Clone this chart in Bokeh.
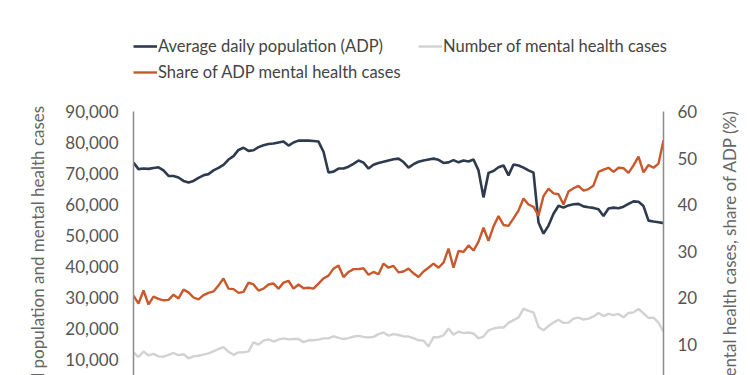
import math
from bokeh.plotting import figure
from bokeh.layouts import column, row
from bokeh.models import (Range1d, LinearAxis, FixedTicker, NumeralTickFormatter,
                          Legend, LegendItem, Label)
from bokeh.embed import file_html
from bokeh.resources import INLINE

# ---- data ----
month = list(range(107))

adp_thousands = [73.5, 71.4, 71.6, 71.5, 71.8, 72.0, 71.0, 69.2, 69.2, 68.7,
                 67.6, 67.1, 67.6, 68.6, 69.4, 69.8, 71.0, 71.8, 72.8, 74.5,
                 75.6, 77.6, 78.3, 77.3, 77.5, 78.5, 79.1, 79.5, 79.7, 80.0,
                 80.3, 79.0, 80.0, 80.6, 80.6, 80.6, 80.5, 80.3, 77.0, 70.3,
                 70.6, 71.6, 71.6, 72.2, 73.1, 74.2, 73.5, 71.6, 72.8, 73.4,
                 73.8, 74.2, 74.6, 74.8, 73.7, 71.9, 73.0, 73.8, 74.2, 74.5,
                 74.8, 74.4, 73.4, 73.6, 74.3, 73.6, 74.2, 73.9, 74.5, 71.0,
                 62.3, 70.2, 70.8, 72.0, 72.6, 69.4, 72.9, 72.6, 71.9, 71.0,
                 70.3, 54.2, 50.6, 53.2, 57.0, 59.6, 59.0, 59.7, 60.1, 60.2,
                 59.4, 59.1, 58.9, 58.5, 56.3, 58.7, 59.0, 58.8, 59.3, 60.2,
                 61.0, 60.9, 59.5, 54.8, 54.5, 54.3, 54.0]

mh_cases_thousands = [12.3, 10.8, 12.6, 11.3, 11.8, 11.0, 10.9, 11.5, 12.1, 11.4,
                      11.7, 10.4, 11.0, 11.2, 11.6, 12.0, 12.6, 13.4, 14.0, 12.5,
                      11.5, 12.3, 12.3, 12.6, 15.5, 14.8, 16.1, 16.5, 15.8, 16.4,
                      16.8, 16.5, 16.6, 16.6, 15.6, 16.2, 16.2, 16.4, 16.8, 16.8,
                      17.5, 17.0, 16.6, 16.9, 17.4, 17.6, 17.3, 17.1, 17.3, 18.2,
                      18.7, 17.7, 18.2, 17.9, 17.5, 17.4, 16.9, 16.2, 16.1, 14.2,
                      17.2, 17.2, 17.8, 20.0, 18.0, 19.0, 18.5, 18.7, 18.4, 16.8,
                      17.4, 19.4, 20.0, 20.3, 20.3, 21.8, 22.7, 23.5, 26.4, 25.7,
                      25.2, 20.5, 19.4, 20.8, 21.9, 22.8, 21.8, 21.9, 23.2, 23.5,
                      22.9, 23.2, 23.9, 25.0, 24.0, 24.7, 24.3, 24.7, 23.6, 25.0,
                      25.2, 26.3, 24.9, 23.4, 23.5, 21.9, 19.0]

share_pct = [20.4, 18.7, 21.5, 18.5, 20.2, 19.7, 19.4, 19.5, 20.6, 19.8,
             21.7, 21.1, 20.0, 19.6, 20.5, 21.0, 21.3, 22.6, 24.1, 21.9,
             21.8, 21.0, 21.2, 23.2, 22.8, 21.5, 21.9, 22.8, 23.0, 21.9,
             23.2, 23.6, 21.9, 22.8, 22.0, 22.1, 21.9, 23.0, 24.1, 24.7,
             26.2, 26.9, 24.4, 25.5, 26.1, 26.1, 26.3, 24.9, 25.5, 25.0,
             27.3, 26.4, 26.8, 25.4, 25.6, 26.2, 25.2, 24.4, 25.6, 26.4,
             27.3, 26.4, 27.5, 30.5, 26.4, 30.0, 29.8, 31.2, 30.1, 32.0,
             35.0, 32.2, 35.3, 37.5, 35.6, 35.4, 37.0, 38.7, 41.3, 40.0,
             39.5, 37.6, 41.8, 43.4, 42.4, 42.2, 40.0, 42.8, 43.5, 44.0,
             43.0, 43.3, 44.1, 47.0, 47.5, 47.9, 47.0, 47.9, 47.8, 46.8,
             48.4, 50.3, 46.9, 48.5, 47.9, 48.8, 53.8]

left_ticks = [10000, 20000, 30000, 40000, 50000, 60000, 70000, 80000, 90000]
right_ticks = [10, 20, 30, 40, 50, 60]

series_names = ["Average daily population (ADP)", "Number of mental health cases",
                "Share of ADP mental health cases"]
left_title = "Jail population and mental health cases"
right_title = "Mental health cases, share of ADP (%)"

adp = [v * 1000 for v in adp_thousands]
mh_cases = [v * 1000 for v in mh_cases_thousands]

# ---- layout (page pixels) ----
W, H = 750, 375
LEG_H = 101                      # height of the legend strip
LT_W, RT_W = 55, 40              # strips holding the axis titles
F_LEFT, F_RIGHT, F_TOP, F_BOTTOM = 133, 663, 111, 375
ZERO_PX = 390                    # where 0 would sit (below the visible window)
LEFT_MAX, RIGHT_MAX = 90000, 60
full_h = ZERO_PX - F_TOP
left_start = LEFT_MAX * (ZERO_PX - F_BOTTOM) / full_h
right_start = RIGHT_MAX * (ZERO_PX - F_BOTTOM) / full_h
CH_H = H - LEG_H
CH_W = W - LT_W - RT_W

FONT = "Lato"
NAVY = "#2e3a4e"
ORANGE = "#c9592b"
GRAY = "#d2d2d2"
AXIS_COLOR = "#8c8c8c"
COLORS = [NAVY, GRAY, ORANGE]
WIDTHS = [2.6, 2.4, 2.4]


def blank_fig(w, h):
    f = figure(width=w, height=h, output_backend="svg", toolbar_location=None,
               x_axis_location=None, y_axis_location=None, title=None,
               x_range=Range1d(0, w), y_range=Range1d(0, h))
    f.min_border = 0
    f.outline_line_color = None
    f.grid.visible = False
    f.border_fill_color = "white"
    f.background_fill_color = "white"
    return f


# ---- main chart ----
p = figure(width=CH_W, height=CH_H, output_backend="svg", toolbar_location=None,
           x_axis_location=None, y_axis_location="left", title=None,
           x_range=Range1d(month[0], month[-1]),
           y_range=Range1d(left_start, LEFT_MAX))
p.min_border_left = F_LEFT - LT_W
p.min_border_right = (W - RT_W) - F_RIGHT
p.min_border_top = F_TOP - LEG_H
p.min_border_bottom = 0
p.outline_line_color = None
p.grid.visible = False
p.background_fill_color = "white"
p.border_fill_color = "white"

p.extra_y_ranges = {"right": Range1d(right_start, RIGHT_MAX)}


def style_axis(ax, ticks, fmt, standoff):
    ax.ticker = FixedTicker(ticks=ticks)
    if fmt:
        ax.formatter = NumeralTickFormatter(format=fmt)
    ax.major_tick_out = 0
    ax.major_tick_in = 0
    ax.minor_tick_out = 0
    ax.minor_tick_in = 0
    ax.axis_line_color = AXIS_COLOR
    ax.axis_line_width = 1.5
    ax.major_label_standoff = standoff
    ax.major_label_text_font = FONT
    ax.major_label_text_font_size = "17px"
    ax.major_label_text_color = "#555555"


style_axis(p.yaxis[0], left_ticks, "0,0", 15)
raxis = LinearAxis(y_range_name="right")
style_axis(raxis, right_ticks, None, 14)
p.add_layout(raxis, "right")

p.line(month, adp, line_color=NAVY, line_width=WIDTHS[0])
p.line(month, mh_cases, line_color=GRAY, line_width=WIDTHS[1])
p.line(month, share_pct, line_color=ORANGE, line_width=WIDTHS[2],
       y_range_name="right")

# ---- axis-title strips (titles centred on the full, uncropped axis) ----
title_center_from_top = (F_TOP + ZERO_PX) / 2 - LEG_H
lt = blank_fig(LT_W, CH_H)
rt = blank_fig(RT_W, CH_H)
for fig, text, cx in [(lt, left_title, 37), (rt, right_title, 729 - (W - RT_W))]:
    fig.add_layout(Label(x=cx, y=CH_H - title_center_from_top, text=text,
                         angle=math.pi / 2, text_align="center",
                         text_baseline="middle", text_font=FONT,
                         text_font_size="17px", text_color="#666666"))

# ---- legend strip (legend keys only, no data) ----
lf = blank_fig(W, LEG_H)

for f in (p, lf, lt, rt):
    if "frame_align" in f.properties():
        f.frame_align = False

nan = float("nan")
keys = [lf.line(x=[nan], y=[nan], line_color=c, line_width=w)
        for c, w in zip(COLORS, WIDTHS)]

ITEM_H = 26
# (left px, row top px) of each legend entry: ADP, Number, Share
slots = [(133, 33), (418, 33), (133, 59)]
for name, key, (sx, top) in zip(series_names, keys, slots):
    leg = Legend(items=[LegendItem(label=name, renderers=[key])],
                 location=(sx, LEG_H - top - ITEM_H),
                 orientation="horizontal",
                 padding=0, margin=0, spacing=0,
                 glyph_width=24, glyph_height=ITEM_H, label_height=ITEM_H,
                 label_standoff=1, label_text_font=FONT,
                 label_text_font_size="16.5px", label_text_color="#444444",
                 border_line_color=None, background_fill_alpha=0)
    lf.add_layout(leg)

layout = column(lf, row(lt, p, rt, spacing=0), spacing=0)
open("out.html", "w").write(file_html(layout, INLINE))
